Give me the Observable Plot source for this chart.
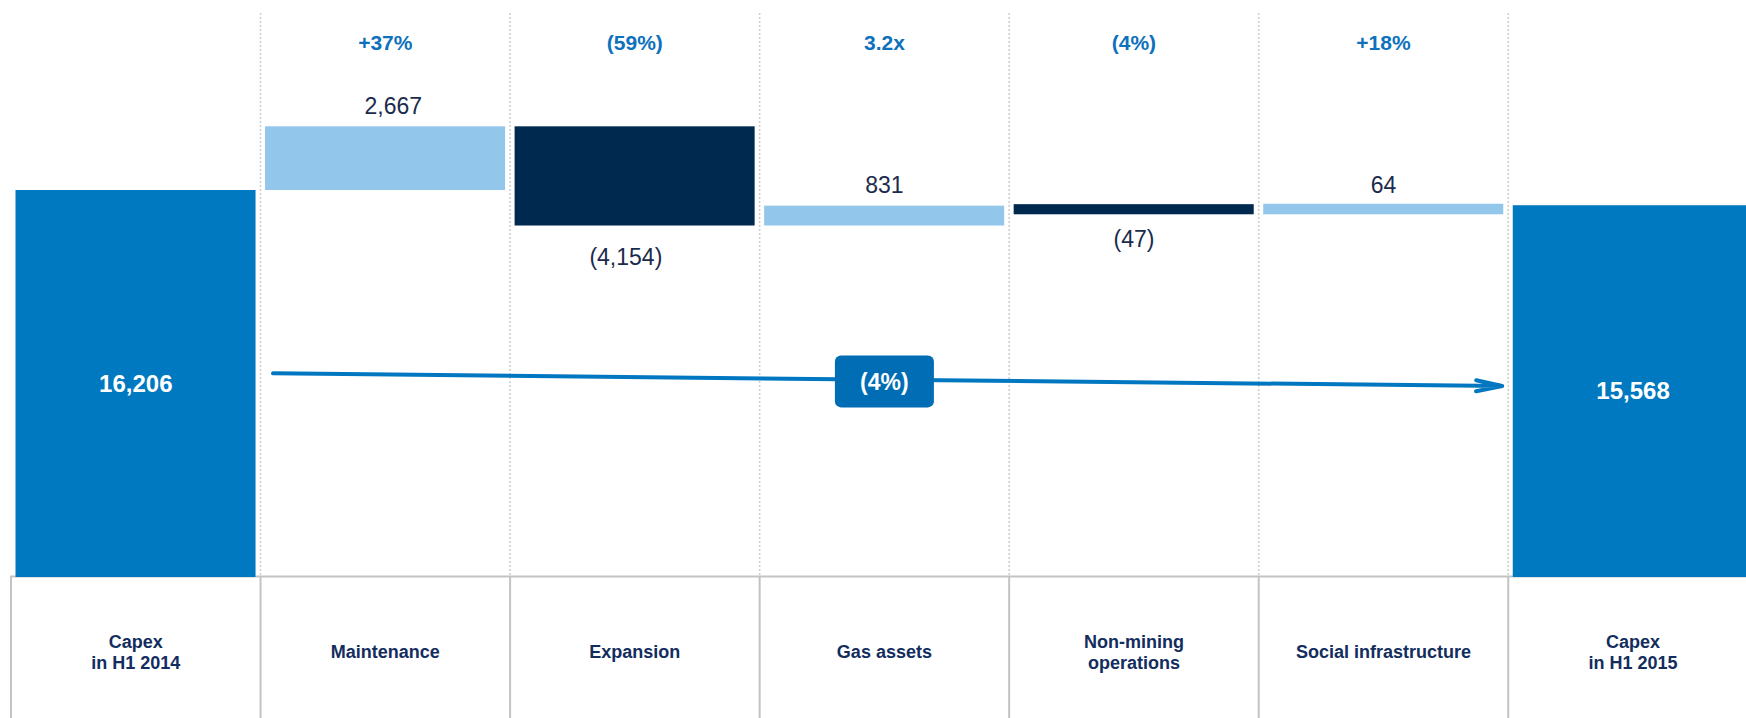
<!DOCTYPE html>
<html>
<head>
<meta charset="utf-8">
<script src="https://cdn.jsdelivr.net/npm/d3@7"></script>
<script src="https://cdn.jsdelivr.net/npm/@observablehq/plot@0.6"></script>
<style>
  html, body { margin: 0; padding: 0; background: #ffffff; overflow: hidden; }
  #chart svg { display: block; }
</style>
</head>
<body>
<div id="chart"></div>
<script>
// ---- Data ----
const categories = ["Capex in H1 2014", "Maintenance", "Expansion", "Gas assets", "Non-mining operations", "Social infrastructure", "Capex in H1 2015"];
const categoryLabels = ["Capex\nin H1 2014", "Maintenance", "Expansion", "Gas assets", "Non-mining\noperations", "Social infrastructure", "Capex\nin H1 2015"];
const values = [16206, 2667, -4154, 831, -47, 64, 15568];
const kinds = ["total", "step", "step", "step", "step", "step", "total"];
const changeLabels = ["", "+37%", "(59%)", "3.2x", "(4%)", "+18%", ""];

// overall trend arrow (from first step column to last step column), levels on the value axis
const trendFrom = ["Maintenance"];
const trendTo = ["Social infrastructure"];
const trendLevels = [8500, 8070];
const trendLabelAt = ["Gas assets"];
const trendLabelLevel = [8150];
const trendLabel = ["(4%)"];

// ---- Derived table ----
let running = 0;
const rows = categories.map((c, i) => {
  const v = values[i];
  let a, b;
  if (kinds[i] === "total") { a = 0; b = v; running = v; }
  else { a = running; b = running + v; running = b; }
  return {category: c, value: v, kind: kinds[i], lo: Math.min(a, b), hi: Math.max(a, b), change: changeLabels[i]};
});
const labelOf = new Map(categories.map((c, i) => [c, categoryLabels[i]]));
const fmt = d3.format(",");
const valueText = d => d.value < 0 ? `(${fmt(-d.value)})` : fmt(d.value);
const fillOf = d => d.kind === "total" ? "#0079c1" : d.value >= 0 ? "#93c6eb" : "#00294f";

const trend = [{from: trendFrom[0], to: trendTo[0], y1: trendLevels[0], y2: trendLevels[1]}];
const trendBox = [{at: trendLabelAt[0], level: trendLabelLevel[0], label: trendLabel[0]}];

// ---- Layout ----
const W = 1746, H = 718;
const xRange = [10.5, 1757.3];
const bw = (xRange[1] - xRange[0]) / categories.length;
const frameTop = 13, frameBottom = 577;
const FONT = "'Liberation Sans', Arial, Helvetica, sans-serif";
const VALUE_COLOR = "#1a2b4c";

const bigBars = rows.filter(d => d.kind === "total" || Math.abs(d.value) >= 100);
const smallBars = rows.filter(d => d.kind !== "total" && Math.abs(d.value) < 100);
const steps = rows.filter(d => d.kind === "step");
const totals = rows.filter(d => d.kind === "total");
// the largest rise / fall labels sit slightly off-centre in the reference
const maxRise = d3.greatest(steps, d => d.value);
const maxFall = d3.least(steps, d => d.value);
const posOther = steps.filter(d => d.value >= 0 && d !== maxRise);
const negOther = steps.filter(d => d.value < 0 && d !== maxFall);

const posLabel = (data, dx) => Plot.text(data, {x: "category", y: "hi", text: valueText, lineAnchor: "bottom", dy: -13, dx, fill: VALUE_COLOR, fontSize: 23});
const negLabel = (data, dx) => Plot.text(data, {x: "category", y: "lo", text: valueText, lineAnchor: "top", dy: 23, dx, fill: VALUE_COLOR, fontSize: 23});

const chart = Plot.plot({
  width: W,
  height: H,
  marginTop: frameTop,
  marginBottom: H - frameBottom,
  marginLeft: 10,
  marginRight: 0,
  style: {fontFamily: FONT, background: "#ffffff"},
  x: {type: "band", domain: categories, range: xRange, padding: 0, round: false},
  y: {domain: [0, 16206], range: [frameBottom, 190], axis: null},
  marks: [
    // dotted column separators
    Plot.ruleX(categories.slice(1), {x: d => d, dx: -bw / 2, stroke: "#cfcfcf", strokeWidth: 1.6, strokeDasharray: "2,2"}),
    // table: solid separators below the chart
    Plot.ruleX(categories, {x: d => d, dx: -bw / 2, insetTop: frameBottom - frameTop - 1, insetBottom: -(H - frameBottom), stroke: "#c3c3c3", strokeWidth: 2}),
    Plot.ruleY([0], {stroke: "#c3c3c3", strokeWidth: 2, dy: -1}),
    // bars
    Plot.barY(bigBars, {x: "category", y1: "lo", y2: "hi", fill: fillOf, insetLeft: 5, insetRight: 4.5}),
    Plot.barY(smallBars, {x: "category", y1: "lo", y2: "hi", fill: fillOf, insetLeft: 5, insetRight: 4.5, insetTop: -1.5, insetBottom: -7.5}),
    // change percentages on top
    Plot.text(rows.filter(d => d.change), {x: "category", text: "change", frameAnchor: "top", lineAnchor: "middle", dy: 30, fill: "#0e71bc", fontSize: 21, fontWeight: "bold"}),
    // step value labels
    posLabel([maxRise], 8),
    posLabel(posOther, 0),
    negLabel([maxFall], -9),
    negLabel(negOther, 0),
    // totals inside bars
    Plot.text(totals, {x: "category", y: d => d.value / 2, text: valueText, fill: "#ffffff", fontSize: 24, fontWeight: "bold"}),
    // trend arrow
    Plot.arrow(trend, {x1: "from", x2: "to", y1: "y1", y2: "y2", stroke: "#0077c0", strokeWidth: 4, headLength: 10, headAngle: 24,
      strokeLinejoin: "miter", insetStart: -(bw / 2 - 12.5), insetEnd: -(bw / 2 - 6)}),
    // trend label box
    Plot.text(trendBox, {x: "at", y: "level", text: "label", fill: "#ffffff", fontSize: 23, fontWeight: "bold",
      render(index, scales, values, dimensions, context, next) {
        const g = next(index, scales, values, dimensions, context);
        for (const i of index) {
          const r = document.createElementNS("http://www.w3.org/2000/svg", "rect");
          const w = 99, h = 52;
          r.setAttribute("x", values.x[i] - w / 2);
          r.setAttribute("y", values.y[i] - 1.5 - h / 2);
          r.setAttribute("width", w);
          r.setAttribute("height", h);
          r.setAttribute("rx", 6);
          r.setAttribute("fill", "#006db4");
          g.insertBefore(r, g.firstChild);
        }
        return g;
      }}),
    // category labels (the table row)
    Plot.axisX({anchor: "bottom", tickSize: 0, tickPadding: 74, lineAnchor: "middle", lineHeight: 1.2,
      tickFormat: c => labelOf.get(c), fontSize: 18, fontWeight: "bold", fill: "#122d5e", label: null})
  ]
});
document.getElementById("chart").appendChild(chart);
</script>
</body>
</html>
